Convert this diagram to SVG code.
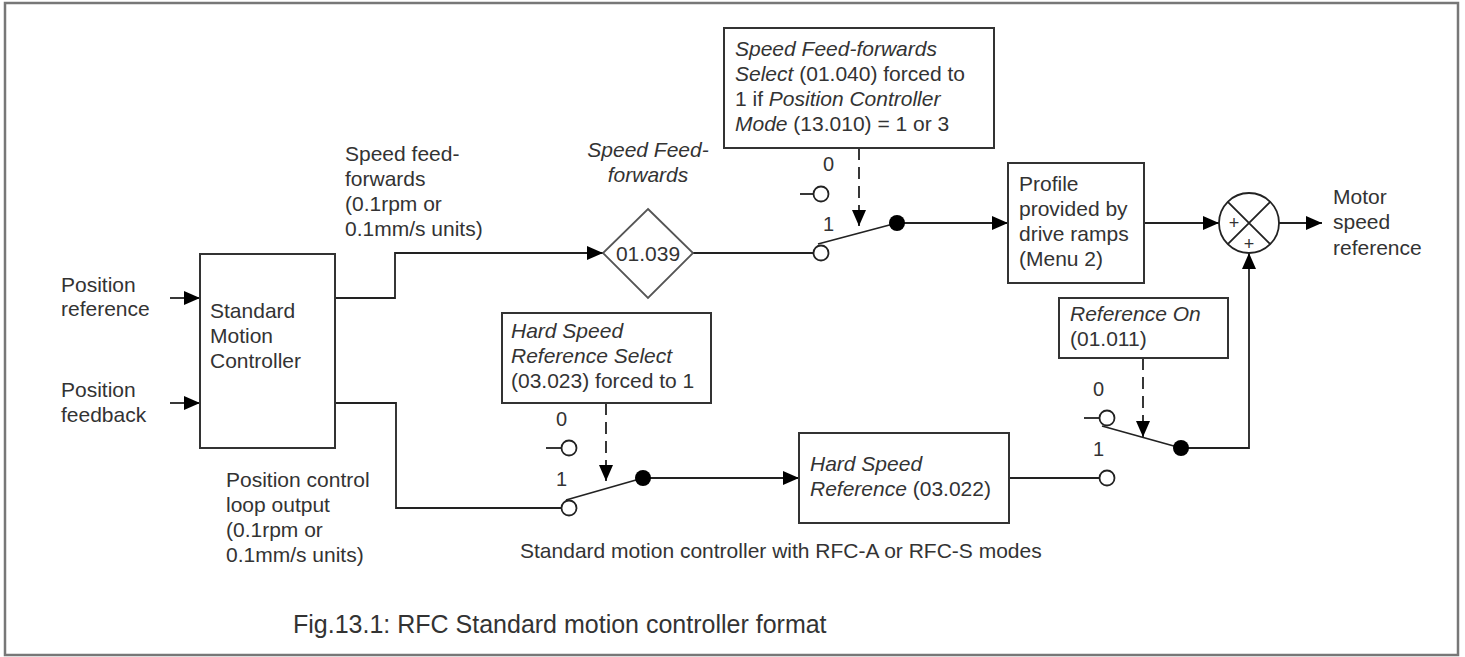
<svg xmlns="http://www.w3.org/2000/svg" width="1465" height="657" viewBox="0 0 1465 657">
<style>
text{font-family:"Liberation Sans",Arial,sans-serif;font-size:21px;fill:#333}
.i{font-style:italic}
.d{font-size:20px}
.cap{font-size:25px}
.pl{font-size:18px}
.box{fill:#fff;stroke:#333;stroke-width:2}
.ln{fill:none;stroke:#222;stroke-width:1.8}
.dash{fill:none;stroke:#222;stroke-width:1.8;stroke-dasharray:12 7}
.term{fill:#fff;stroke:#222;stroke-width:1.8}
.dot{fill:#000}
</style>
<defs>
<marker id="ah" markerUnits="userSpaceOnUse" markerWidth="16" markerHeight="14" refX="16" refY="7" orient="auto">
<path d="M0,0 L16,7 L0,14 z" fill="#000"/>
</marker>
</defs>
<rect x="5" y="3" width="1453" height="652" fill="#fff" stroke="#777" stroke-width="2.5"/>

<g id="connectors">
<path class="ln" d="M170,298 H200" marker-end="url(#ah)"/>
<path class="ln" d="M170,403 H200" marker-end="url(#ah)"/>
<path class="ln" d="M335,298 H395 V253 H603" marker-end="url(#ah)"/>
<path class="ln" d="M693,253 H813.5"/>
<path class="ln" d="M897,223 H1008" marker-end="url(#ah)"/>
<path class="ln" d="M1144,223 H1219" marker-end="url(#ah)"/>
<path class="ln" d="M1279,223 H1322" marker-end="url(#ah)"/>
<path class="ln" d="M335,403 H396 V508 H561.5"/>
<path class="ln" d="M643,478 H799" marker-end="url(#ah)"/>
<path class="ln" d="M1009,478 H1099.5"/>
<path class="ln" d="M1181,448 H1249 V253" marker-end="url(#ah)"/>
<path class="dash" d="M859,148 V226" marker-end="url(#ah)"/>
<path class="dash" d="M606,403 V481" marker-end="url(#ah)"/>
<path class="dash" d="M1143,358 V437" marker-end="url(#ah)"/>
</g>

<g id="smc">
<rect class="box" x="200" y="254" width="135" height="194"/>
<text x="210" y="318">Standard</text>
<text x="210" y="343">Motion</text>
<text x="210" y="368">Controller</text>
</g>

<g id="label-posref">
<text x="61" y="292">Position</text>
<text x="61" y="316">reference</text>
</g>
<g id="label-posfb">
<text x="61" y="397">Position</text>
<text x="61" y="422">feedback</text>
</g>
<g id="label-sff">
<text x="345" y="161">Speed feed-</text>
<text x="345" y="186">forwards</text>
<text x="345" y="211">(0.1rpm or</text>
<text x="345" y="236">0.1mm/s units)</text>
</g>
<g id="label-pcl">
<text x="226" y="487">Position control</text>
<text x="226" y="512">loop output</text>
<text x="226" y="537">(0.1rpm or</text>
<text x="226" y="562">0.1mm/s units)</text>
</g>

<g id="diamond">
<path d="M648,209 L693,253 L648,298 L603,253 z" fill="#fff" stroke="#555" stroke-width="1.8"/>
<text x="648" y="261" text-anchor="middle">01.039</text>
<text class="i" x="648" y="157" text-anchor="middle">Speed Feed-</text>
<text class="i" x="648" y="182" text-anchor="middle">forwards</text>
</g>

<g id="sff-select">
<rect class="box" x="724" y="28" width="270" height="120"/>
<text x="735" y="56"><tspan class="i">Speed Feed-forwards</tspan></text>
<text x="735" y="81"><tspan class="i">Select</tspan> (01.040) forced to</text>
<text x="735" y="106">1 if <tspan class="i">Position Controller</tspan></text>
<text x="735" y="131"><tspan class="i">Mode</tspan> (13.010) = 1 or 3</text>
</g>

<g id="switch1">
<path class="ln" d="M800,194 H813.5"/>
<circle class="term" cx="821" cy="194" r="7.5"/>
<circle class="term" cx="821" cy="253" r="7.5"/>
<path class="ln" d="M818,244 L897,223"/>
<circle class="dot" cx="897" cy="223" r="8"/>
<text class="d" x="823" y="171">0</text>
<text class="d" x="823" y="231">1</text>
</g>

<g id="profile">
<rect class="box" x="1008" y="163" width="136" height="120"/>
<text x="1019" y="191">Profile</text>
<text x="1019" y="216">provided by</text>
<text x="1019" y="241">drive ramps</text>
<text x="1019" y="266">(Menu 2)</text>
</g>

<g id="summer">
<circle cx="1249" cy="223" r="30" fill="#fff" stroke="#222" stroke-width="1.8"/>
<path class="ln" d="M1227.8,201.8 L1270.2,244.2 M1270.2,201.8 L1227.8,244.2"/>
<text class="pl" x="1234" y="229" text-anchor="middle">+</text>
<text class="pl" x="1249" y="250" text-anchor="middle">+</text>
</g>

<g id="label-out">
<text x="1333" y="204">Motor</text>
<text x="1333" y="229">speed</text>
<text x="1333" y="255">reference</text>
</g>

<g id="hsr-select">
<rect class="box" x="502" y="313" width="209" height="90"/>
<text class="i" x="511" y="338">Hard Speed</text>
<text class="i" x="511" y="363">Reference Select</text>
<text x="511" y="388">(03.023) forced to 1</text>
</g>

<g id="switch2">
<path class="ln" d="M546,448 H561.5"/>
<circle class="term" cx="569" cy="448" r="7.5"/>
<circle class="term" cx="569" cy="508" r="7.5"/>
<path class="ln" d="M566,500 L643,478"/>
<circle class="dot" cx="643" cy="478" r="8"/>
<text class="d" x="556" y="426">0</text>
<text class="d" x="556" y="486">1</text>
</g>

<g id="hsr">
<rect class="box" x="799" y="433" width="210" height="90"/>
<text class="i" x="810" y="471">Hard Speed</text>
<text x="810" y="496"><tspan class="i">Reference</tspan> (03.022)</text>
</g>

<g id="ref-on">
<rect class="box" x="1059" y="298" width="169" height="60"/>
<text class="i" x="1070" y="321">Reference On</text>
<text x="1070" y="346">(01.011)</text>
</g>

<g id="switch3">
<path class="ln" d="M1084,418 H1099.5"/>
<circle class="term" cx="1107" cy="418" r="7.5"/>
<circle class="term" cx="1107" cy="478" r="7.5"/>
<path class="ln" d="M1102,426 L1181,448"/>
<circle class="dot" cx="1181" cy="448" r="8"/>
<text class="d" x="1093" y="396">0</text>
<text class="d" x="1093" y="456">1</text>
</g>

<g id="captions">
<text x="520" y="558">Standard motion controller with RFC-A or RFC-S modes</text>
<text class="cap" x="293" y="633">Fig.13.1: RFC Standard motion controller format</text>
</g>
</svg>
